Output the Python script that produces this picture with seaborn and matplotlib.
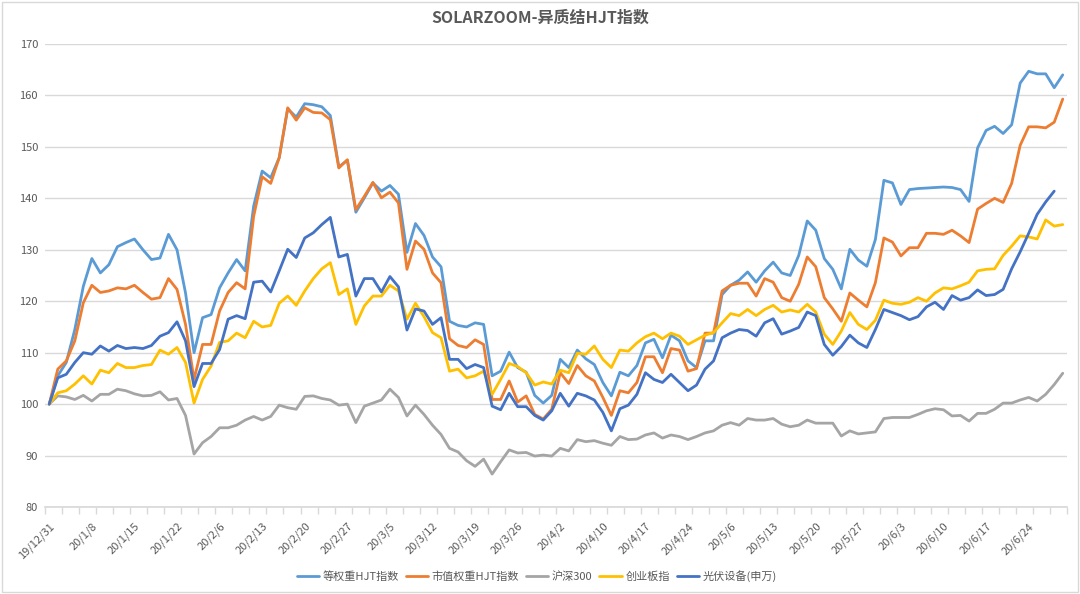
import matplotlib
matplotlib.use("Agg")
import numpy as np
import pandas as pd
import matplotlib.pyplot as plt
import seaborn as sns
from matplotlib.patches import Rectangle

dates = ["19/12/31", "20/1/2", "20/1/3", "20/1/6", "20/1/7", "20/1/8", "20/1/9", "20/1/10", "20/1/13", "20/1/14",
         "20/1/15", "20/1/16", "20/1/17", "20/1/20", "20/1/21", "20/1/22", "20/1/23", "20/2/3", "20/2/4", "20/2/5",
         "20/2/6", "20/2/7", "20/2/10", "20/2/11", "20/2/12", "20/2/13", "20/2/14", "20/2/17", "20/2/18", "20/2/19",
         "20/2/20", "20/2/21", "20/2/24", "20/2/25", "20/2/26", "20/2/27", "20/2/28", "20/3/2", "20/3/3", "20/3/4",
         "20/3/5", "20/3/6", "20/3/9", "20/3/10", "20/3/11", "20/3/12", "20/3/13", "20/3/16", "20/3/17", "20/3/18",
         "20/3/19", "20/3/20", "20/3/23", "20/3/24", "20/3/25", "20/3/26", "20/3/27", "20/3/30", "20/3/31", "20/4/1",
         "20/4/2", "20/4/3", "20/4/7", "20/4/8", "20/4/9", "20/4/10", "20/4/13", "20/4/14", "20/4/15", "20/4/16",
         "20/4/17", "20/4/20", "20/4/21", "20/4/22", "20/4/23", "20/4/24", "20/4/27", "20/4/28", "20/4/29", "20/4/30",
         "20/5/6", "20/5/7", "20/5/8", "20/5/11", "20/5/12", "20/5/13", "20/5/14", "20/5/15", "20/5/18", "20/5/19",
         "20/5/20", "20/5/21", "20/5/22", "20/5/25", "20/5/26", "20/5/27", "20/5/28", "20/5/29", "20/6/1", "20/6/2",
         "20/6/3", "20/6/4", "20/6/5", "20/6/8", "20/6/9", "20/6/10", "20/6/11", "20/6/12", "20/6/15", "20/6/16",
         "20/6/17", "20/6/18", "20/6/19", "20/6/22", "20/6/23", "20/6/24", "20/6/29", "20/6/30", "20/7/1", "20/7/2"]

equal_weight = [100.0, 105.5, 108.1, 114.5, 122.9, 128.3, 125.5, 127.1, 130.6, 131.4,
                132.1, 130.0, 128.1, 128.4, 133.0, 130.0, 121.6, 110.0, 116.8, 117.4,
                122.6, 125.5, 128.1, 125.9, 138.5, 145.3, 144.0, 147.9, 157.4, 155.8,
                158.4, 158.2, 157.8, 156.1, 146.1, 147.4, 137.3, 140.1, 143.0, 141.4,
                142.5, 140.8, 129.5, 135.1, 132.8, 128.6, 126.7, 116.1, 115.3, 115.0,
                115.8, 115.5, 105.5, 106.4, 110.1, 107.1, 106.2, 101.7, 100.2, 101.7,
                108.7, 107.1, 110.5, 108.8, 107.7, 104.2, 101.6, 106.2, 105.5, 107.5,
                111.9, 112.6, 109.0, 113.4, 112.3, 108.4, 107.1, 112.3, 112.3, 121.3,
                123.1, 124.1, 125.7, 123.7, 125.9, 127.6, 125.5, 125.0, 128.9, 135.6,
                133.8, 128.3, 126.2, 122.4, 130.1, 128.0, 126.8, 132.0, 143.5, 143.0,
                138.8, 141.7, 141.9, 142.0, 142.1, 142.2, 142.1, 141.7, 139.4, 149.8,
                153.2, 154.0, 152.6, 154.3, 162.4, 164.7, 164.2, 164.2, 161.5, 164.0]

cap_weight = [100.0, 106.8, 108.4, 112.3, 119.7, 123.1, 121.7, 122.0, 122.6, 122.4,
              123.1, 121.7, 120.4, 120.7, 124.4, 122.3, 115.5, 104.8, 111.6, 111.6,
              118.1, 121.7, 123.6, 122.4, 136.5, 144.2, 142.9, 147.9, 157.6, 155.2,
              157.6, 156.7, 156.6, 155.3, 145.9, 147.5, 137.8, 140.4, 143.1, 140.1,
              141.2, 139.1, 126.2, 131.7, 130.1, 125.5, 123.6, 112.7, 111.4, 111.0,
              112.5, 111.6, 100.9, 100.9, 104.5, 100.4, 101.6, 98.0, 97.1, 99.0,
              106.1, 104.0, 107.5, 105.5, 104.5, 101.3, 97.8, 102.6, 102.2, 104.2,
              109.2, 109.2, 106.1, 110.8, 110.5, 106.4, 106.9, 113.8, 113.8, 122.0,
              123.1, 123.5, 123.5, 121.0, 124.4, 123.7, 120.7, 120.0, 123.3, 128.6,
              126.7, 120.7, 118.5, 116.1, 121.6, 120.2, 118.9, 123.6, 132.3, 131.5,
              128.8, 130.4, 130.4, 133.2, 133.2, 133.0, 133.8, 132.7, 131.4, 137.9,
              139.0, 140.0, 139.2, 142.9, 150.3, 153.9, 153.9, 153.7, 154.8, 159.3]

hs300 = [100.0, 101.6, 101.4, 100.9, 101.7, 100.6, 101.9, 101.9, 102.9, 102.6,
         102.0, 101.6, 101.7, 102.4, 100.8, 101.1, 97.8, 90.3, 92.5, 93.7,
         95.4, 95.4, 95.9, 96.9, 97.6, 96.9, 97.6, 99.8, 99.3, 99.0,
         101.5, 101.6, 101.1, 100.8, 99.8, 100.0, 96.4, 99.6, 100.2, 100.8,
         102.9, 101.3, 97.7, 99.8, 98.0, 95.9, 94.1, 91.4, 90.7, 89.0,
         87.9, 89.3, 86.4, 88.8, 91.1, 90.5, 90.6, 89.9, 90.1, 89.9,
         91.4, 90.9, 93.1, 92.7, 92.9, 92.4, 92.0, 93.7, 93.1, 93.2,
         94.0, 94.4, 93.4, 94.0, 93.7, 93.1, 93.7, 94.4, 94.8, 95.9,
         96.4, 95.9, 97.2, 96.9, 96.9, 97.2, 96.1, 95.6, 95.9, 96.9,
         96.3, 96.3, 96.3, 93.8, 94.8, 94.2, 94.4, 94.6, 97.2, 97.4,
         97.4, 97.4, 98.0, 98.7, 99.1, 98.9, 97.7, 97.8, 96.7, 98.2,
         98.2, 99.0, 100.2, 100.2, 100.8, 101.3, 100.6, 101.9, 103.8, 106.0]

chinext = [100.0, 102.2, 102.6, 103.9, 105.5, 103.9, 106.6, 106.1, 107.9, 107.1,
           107.1, 107.5, 107.7, 110.5, 109.7, 111.0, 108.1, 100.2, 104.8, 107.4,
           112.0, 112.3, 113.8, 112.9, 116.1, 115.0, 115.3, 119.6, 121.0, 119.2,
           122.0, 124.4, 126.3, 127.5, 121.3, 122.4, 115.5, 119.1, 121.0, 121.0,
           123.1, 122.0, 116.5, 119.6, 117.0, 113.9, 112.9, 106.4, 106.8, 105.1,
           105.5, 106.4, 101.9, 104.8, 107.9, 107.3, 106.1, 103.7, 104.3, 103.9,
           106.6, 106.1, 109.9, 109.7, 111.3, 108.7, 107.1, 110.5, 110.3, 111.9,
           113.1, 113.8, 112.7, 113.8, 113.2, 111.6, 112.5, 113.4, 113.9, 115.8,
           117.6, 117.2, 118.4, 117.2, 118.4, 119.2, 117.9, 118.3, 117.9, 119.4,
           117.9, 113.6, 111.6, 114.2, 117.8, 115.5, 114.5, 116.3, 120.2, 119.6,
           119.4, 119.8, 120.7, 120.0, 121.6, 122.6, 122.4, 123.0, 123.7, 125.9,
           126.2, 126.3, 128.9, 130.7, 132.7, 132.5, 132.1, 135.8, 134.6, 134.9]

pv_equipment = [100.0, 105.1, 105.8, 108.1, 110.0, 109.7, 111.3, 110.3, 111.4, 110.8,
                111.0, 110.8, 111.4, 113.2, 113.9, 116.0, 112.3, 103.4, 107.9, 107.9,
                110.6, 116.5, 117.2, 116.6, 123.7, 123.9, 121.8, 125.9, 130.1, 128.5,
                132.3, 133.3, 134.9, 136.3, 128.6, 129.1, 121.0, 124.4, 124.4, 121.8,
                124.8, 122.8, 114.4, 118.5, 118.1, 115.5, 116.8, 108.7, 108.7, 106.9,
                107.7, 107.1, 99.6, 98.9, 102.1, 99.5, 99.5, 97.8, 96.9, 98.7,
                102.1, 99.6, 102.1, 101.6, 100.8, 98.4, 94.8, 99.1, 99.8, 101.9,
                106.1, 104.8, 104.2, 105.8, 104.2, 102.6, 103.7, 106.8, 108.4, 112.9,
                113.8, 114.5, 114.3, 113.2, 115.8, 116.6, 113.6, 114.2, 114.9, 117.9,
                117.2, 111.6, 109.5, 111.2, 113.4, 111.9, 111.0, 114.5, 118.4, 117.8,
                117.2, 116.4, 117.0, 118.9, 119.8, 118.4, 121.1, 120.2, 120.7, 122.2,
                121.1, 121.3, 122.3, 126.3, 129.6, 133.2, 136.9, 139.3, 141.4, np.nan]

series_names = ["等权重HJT指数", "市值权重HJT指数", "沪深300", "创业板指", "光伏设备(申万)"]
series_values = [equal_weight, cap_weight, hs300, chinext, pv_equipment]
colors = ["#5B9BD5", "#ED7D31", "#A5A5A5", "#FFC000", "#4472C4"]

frames = []
for name, vals in zip(series_names, series_values):
    frames.append(pd.DataFrame({"idx": np.arange(len(dates)), "value": vals, "series": name}))
df = pd.concat(frames, ignore_index=True).dropna()

sns.set_theme(style="white")
plt.rcParams["font.family"] = ["Noto Sans CJK SC", "DejaVu Sans"]

fig = plt.figure(figsize=(10.8, 5.94), dpi=100)
ax = fig.add_axes([45 / 1080, 87 / 594, 1022 / 1080, 463 / 594])

sns.lineplot(data=df, x="idx", y="value", hue="series", hue_order=series_names,
             palette=dict(zip(series_names, colors)), linewidth=2.0, sort=False, ax=ax)

ax.set_xlim(-0.5, len(dates) - 0.5)
ax.set_ylim(80, 170)
ax.set_yticks(range(80, 171, 10))
ax.yaxis.grid(True, color="#d9d9d9", linewidth=1)
ax.xaxis.grid(False)
for s in ["left", "right", "top"]:
    ax.spines[s].set_visible(False)
ax.spines["bottom"].set_color("#d9d9d9")
ax.set_axisbelow(True)

# category labels every 5 trading days, small tick marks every 2
ax.set_xticks(range(0, len(dates), 5))
ax.set_xticklabels(dates[::5], rotation=45, ha="right", rotation_mode="anchor")
ax.set_xticks(np.arange(-0.5, len(dates), 2), minor=True)
ax.tick_params(axis="x", which="major", length=0, pad=10, labelsize=8, labelcolor="#595959")
ax.tick_params(axis="x", which="minor", bottom=True, length=5, color="#d9d9d9", width=1)
ax.tick_params(axis="y", length=0, pad=5, labelsize=8, labelcolor="#595959")
ax.set_xlabel("")
ax.set_ylabel("")

handles, labels = ax.get_legend_handles_labels()
ax.get_legend().remove()
fig.legend(handles, labels, loc="center", bbox_to_anchor=(0.497, 1 - 576 / 594), ncol=5,
           frameon=False, fontsize=8, handlelength=2.0, columnspacing=0.6, handletextpad=0.35,
           labelcolor="#595959")

fig.text(0.5, 1 - 18 / 594, "SOLARZOOM-异质结HJT指数", ha="center", va="center",
         fontsize=11.5, fontweight="bold", color="#595959")

fig.patches.append(Rectangle((0.002, 0.003), 0.996, 0.994, transform=fig.transFigure,
                             fill=False, edgecolor="#d9d9d9", linewidth=1))

fig.savefig("out.png", dpi=100, facecolor="white")
